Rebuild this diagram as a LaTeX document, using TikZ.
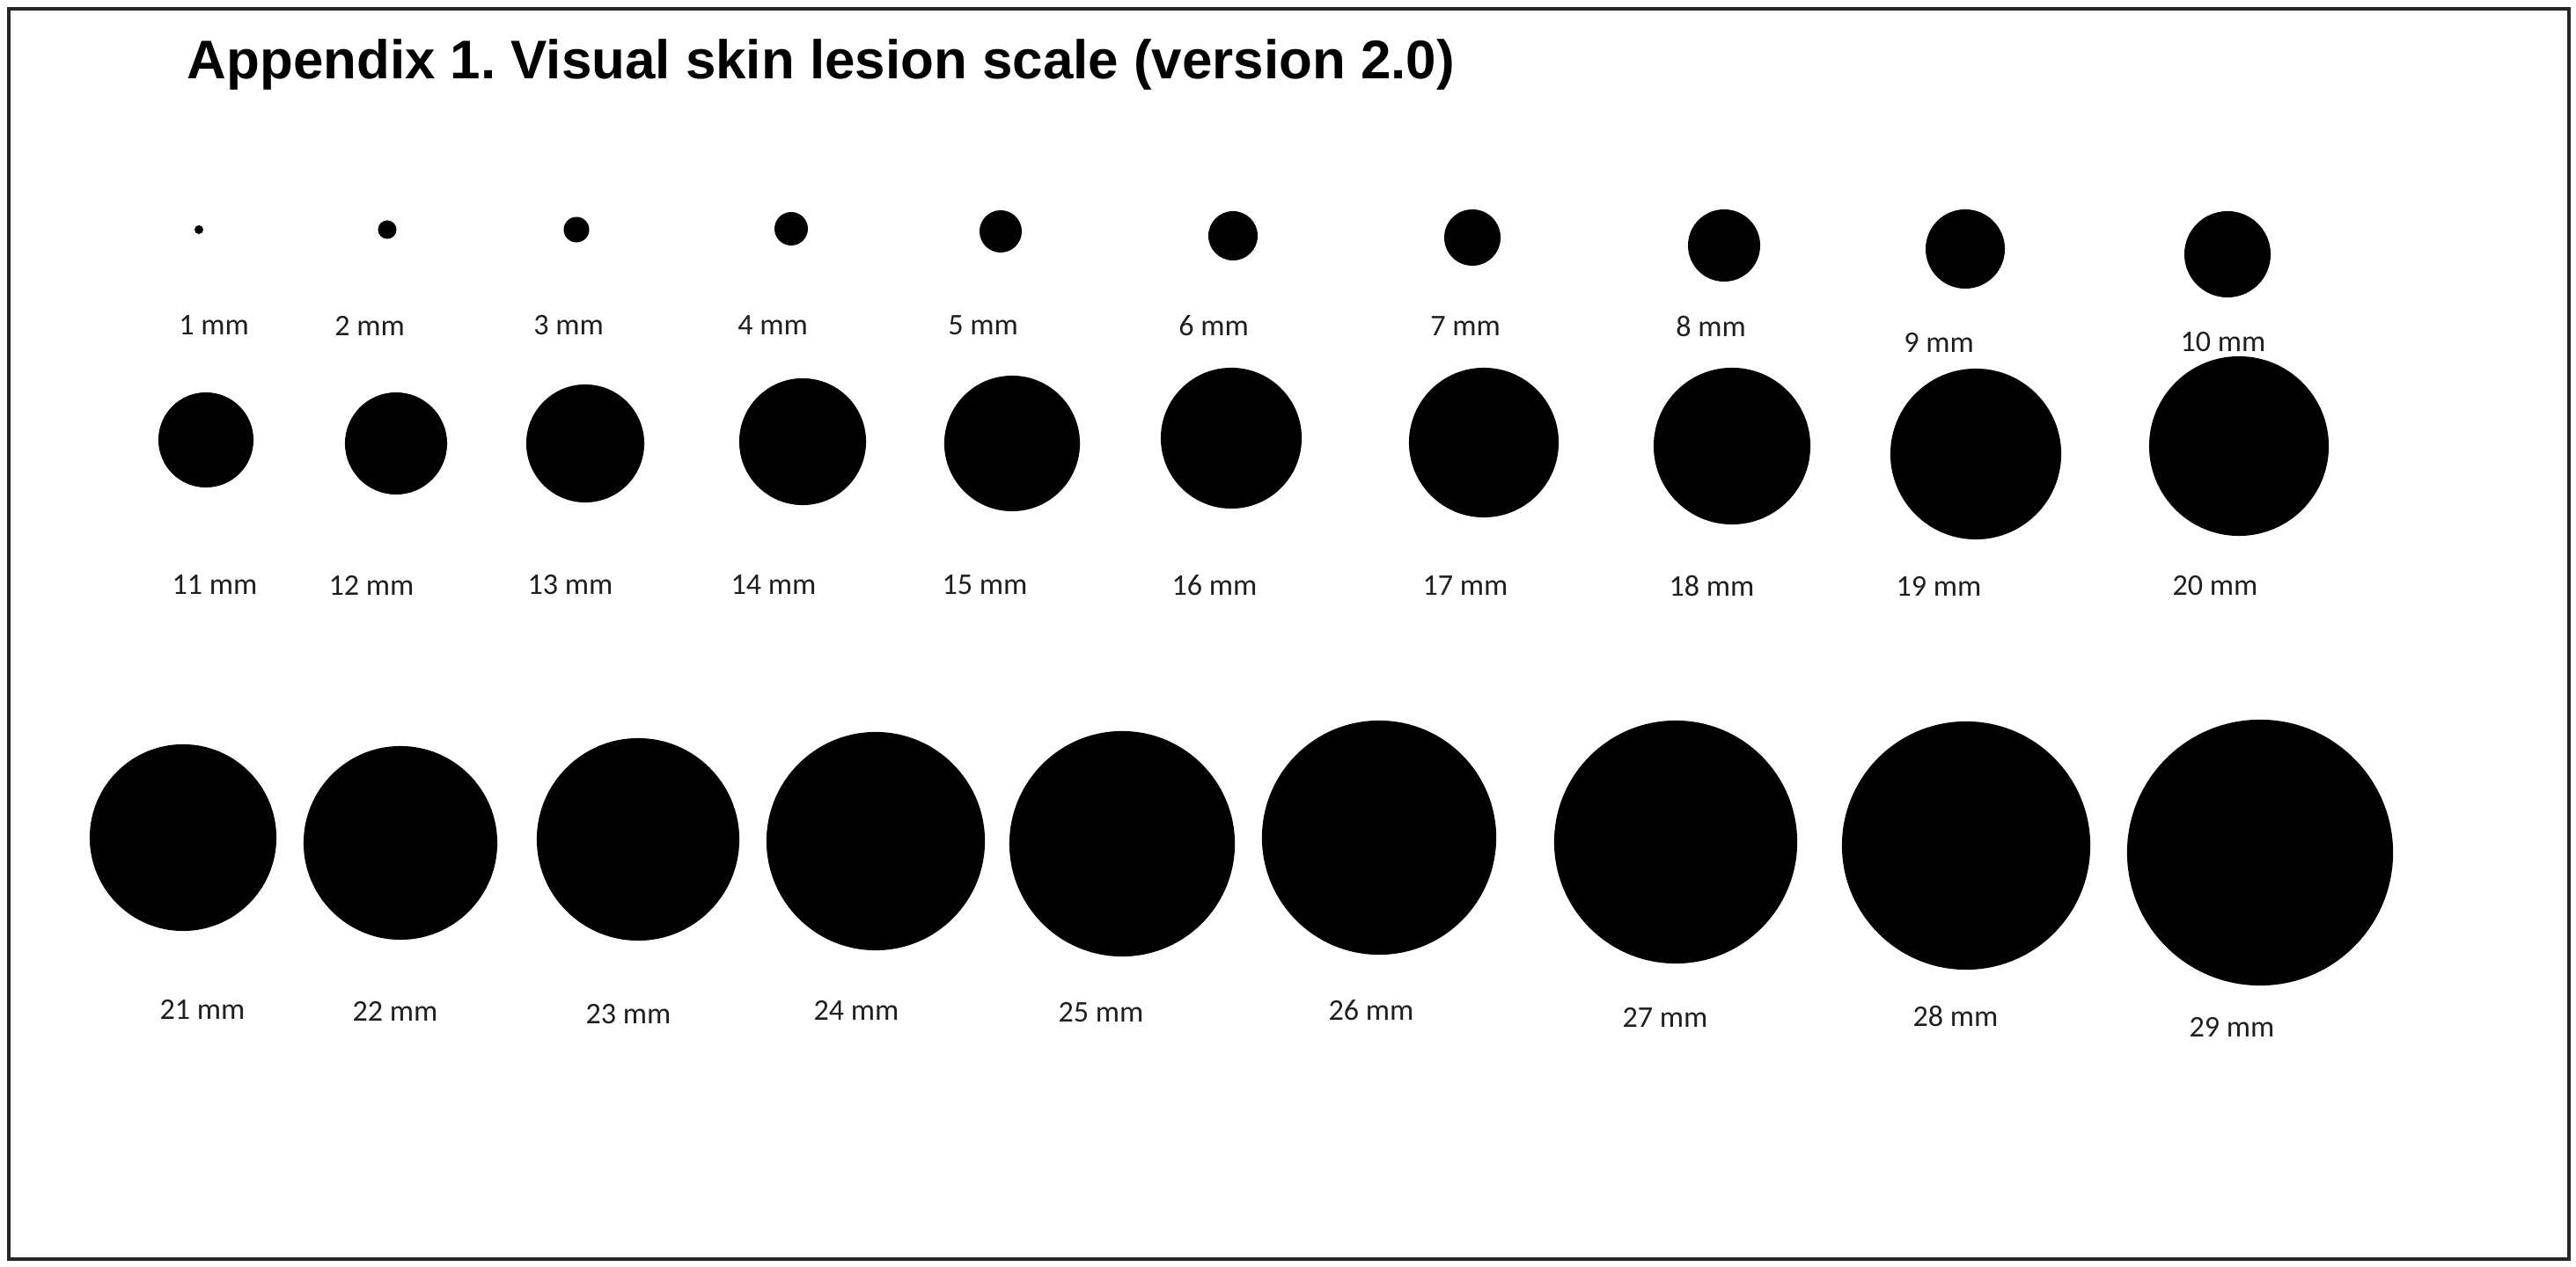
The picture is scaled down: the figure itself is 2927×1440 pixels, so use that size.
\documentclass[tikz,border=0pt]{standalone}
\usepackage{fontspec}
\setmainfont{Liberation Sans}
\newfontfamily\labfont{Carlito}
\frenchspacing
\begin{document}
\begin{tikzpicture}[x=0.01cm,y=-0.01cm,
  dot/.style={circle,fill=black,draw=none,inner sep=0pt},
  lbl/.style={inner sep=0pt,anchor=center,text=black!88,font=\labfont\fontsize{9.7pt}{11pt}\selectfont},
  ttl/.style={inner sep=0pt,anchor=base west,font=\bfseries\fontsize{17.6pt}{20pt}\selectfont}]
\useasboundingbox (0,0) rectangle (2927,1440);
\fill[white] (0,0) rectangle (2927,1440);
\draw[line width=0.04cm,black!85] (10,10) rectangle (2919,1431);
\node[ttl] (title) at (212,90) {Appendix 1.\ Visual skin lesion scale (version 2.0)};
\foreach \n/\cx/\cy/\r/\lx/\ly in {
 1/226/261/5/243/370, 2/440/261/10.5/420/370, 3/655/261/14.5/646/370,
 4/899/260/19/878/370, 5/1137/263/24/1117/370, 6/1401/268/28/1379/370,
 7/1673/270/32/1665/371, 8/1959/279/41/1944/371, 9/2233/283/45/2203/389,
 10/2531/289/49/2526/389,
 11/234/500/54/244/665, 12/450/504/58/422/665, 13/665/504/67/648/665,
 14/912/502/72/879/665, 15/1150/504/77/1119/665, 16/1399/498/80/1380/665,
 17/1686/503/85/1665/666, 18/1968/507/89/1945/666, 19/2245/516/97/2203/666,
 20/2544/507/102/2517/666,
 21/208/952/106/230/1147, 22/455/958/110/449/1149, 23/725/954/115/714/1153,
 24/995/956/124/973/1148, 25/1275/959/128/1251/1151, 26/1567/952/133/1558/1148,
 27/1904/957/138/1892/1156, 28/2234/961/141/2222/1155, 29/2568/969/151/2536/1167}
{
  \node[dot,minimum size={\r*0.02cm}] (c\n) at (\cx,\cy) {};
  \node[lbl] (l\n) at (\lx,\ly) {\n\ mm};
}
\end{tikzpicture}
\end{document}
